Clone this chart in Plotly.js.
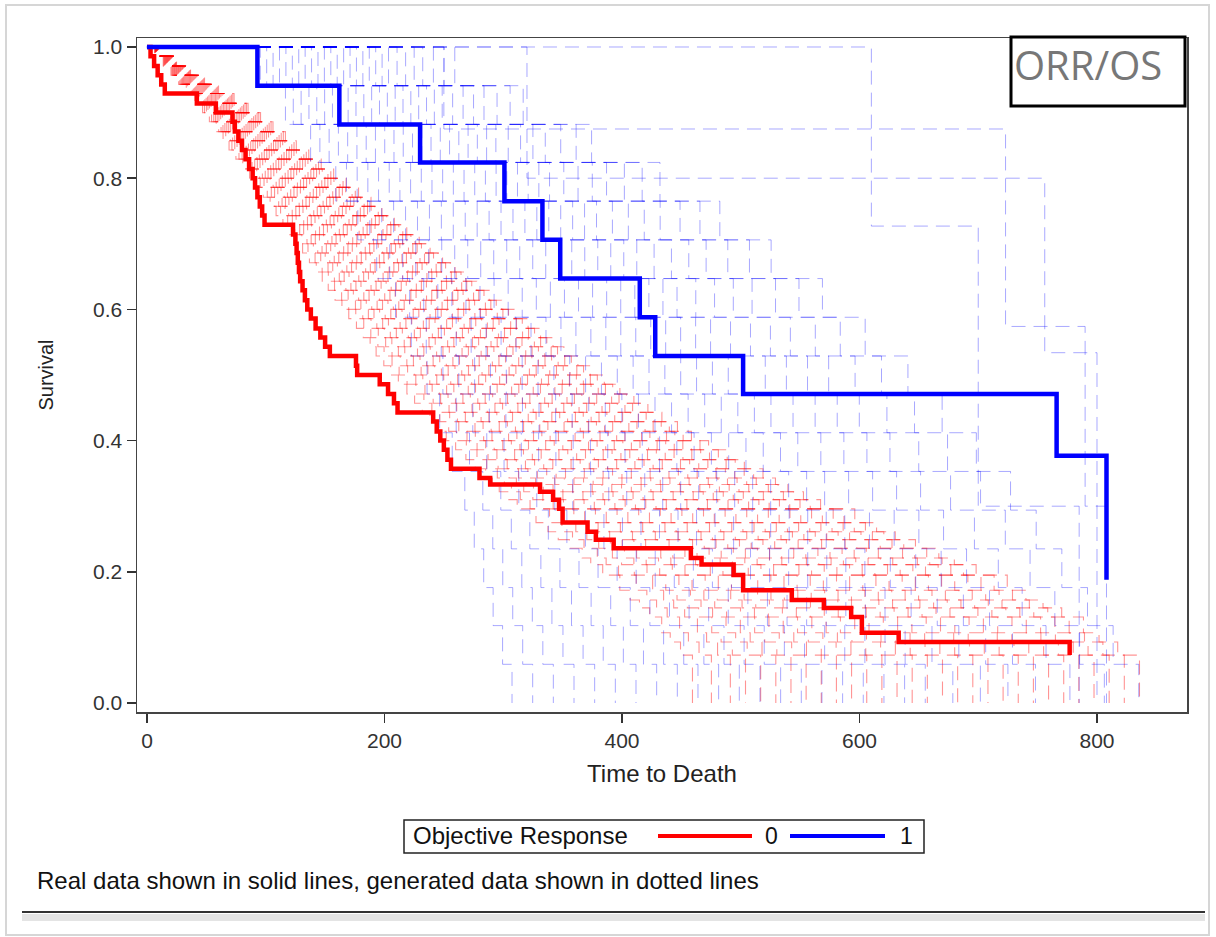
<!DOCTYPE html>
<html><head><meta charset="utf-8">
<script src="https://cdn.plot.ly/plotly-3.0.1.min.js"></script>
<style>html,body{margin:0;padding:0;background:#fff}#chart{width:1216px;height:937px}</style>
</head><body><div id="chart"></div>
<script>
// ---- Real Kaplan-Meier data ----
const redTimes = [0,3,6,9,12,15,42,58,72,74,77,80,83,86,89,91,93,95,97,99,123,125,126,127,128,129,131,133,135,138,142,146,150,154,176,177,196,203,208,211,241,244,247,250,253,256,280,289,331,342,347,350,371,378,393,458,467,494,502,543,570,593,602,633,777];
const redSurv  = [1,0.986,0.971,0.957,0.943,0.929,0.914,0.900,0.886,0.871,0.857,0.843,0.829,0.814,0.800,0.786,0.771,0.757,0.743,0.729,0.714,0.700,0.686,0.671,0.657,0.643,0.629,0.614,0.600,0.586,0.571,0.557,0.543,0.529,0.514,0.500,0.486,0.471,0.457,0.443,0.429,0.414,0.400,0.386,0.371,0.357,0.343,0.333,0.322,0.310,0.296,0.275,0.261,0.249,0.236,0.221,0.211,0.195,0.172,0.157,0.145,0.131,0.107,0.093,0.073];
const blueTimes = [0,93,162,230,301,333,348,415,428,502,766,808];
const blueSurv  = [1,0.941,0.882,0.824,0.765,0.706,0.647,0.588,0.529,0.471,0.377,0.188];

// ---- Generated (simulated) curves: centre of each dashed cloud,
//      and the time-stretch of the individual dashed curves around that centre ----
const redGenTimes = [0,9,19,28,37,46,56,65,73,81,89,96,104,112,120,128,136,144,151,159,167,175,182,190,198,205,212,220,228,236,245,253,261,268,277,285,294,304,313,322,331,341,350,361,373,384,396,404,412,422,433,455,469,481,494,509,519,533,553,565,576,588,602,612,624,638];
const redGenSurv  = [1,0.986,0.971,0.957,0.943,0.929,0.914,0.900,0.886,0.871,0.857,0.843,0.829,0.814,0.800,0.786,0.771,0.757,0.743,0.729,0.714,0.700,0.686,0.671,0.657,0.643,0.629,0.614,0.600,0.586,0.571,0.557,0.543,0.529,0.514,0.500,0.486,0.471,0.457,0.443,0.429,0.414,0.400,0.386,0.371,0.357,0.343,0.333,0.322,0.310,0.296,0.275,0.261,0.249,0.236,0.221,0.211,0.195,0.172,0.157,0.145,0.131,0.107,0.093,0.073,0];
const redGenStretch = [0.72,0.745,0.77,0.79,0.81,0.83,0.85,0.87,0.89,0.91,0.93,0.95,0.97,0.99,1.01,1.03,1.05,1.07,1.09,1.11,1.13,1.15,1.17,1.19,1.21,1.23,1.25,1.27,1.29,1.31];
const blueGenTimes = [0,180,220,260,300,335,365,395,420,445,465,485,505,520,535,550,565,580];
const blueGenSurv  = [1,0.941,0.882,0.824,0.765,0.706,0.647,0.588,0.529,0.471,0.412,0.353,0.294,0.235,0.176,0.118,0.059,0];
const blueGenStretch = [0.53,0.56,0.59,0.62,0.65,0.68,0.71,0.74,0.77,0.8,0.83,0.86,0.89,0.92,0.95,0.98,1.01,1.04,1.07,1.1,1.13,1.17,1.21,1.25,1.29,1.34,1.39,1.44];
const blueOutTimes1 = [0,610,700,785];
const blueOutSurv1  = [1,0.727,0.3,0];
const blueOutTimes2 = [0,250,723,790,808];
const blueOutSurv2  = [1,0.875,0.574,0.3,0];
const blueOutTimes3 = [0,320,756,800];
const blueOutSurv3  = [1,0.800,0.534,0];

const xTicks = [0,200,400,600,800];
const yTicks = [0,0.2,0.4,0.6,0.8,1.0];
const xTitle = 'Time to Death';
const yTitle = 'Survival';
const legendTitle = 'Objective Response';
const groupLabels = ['0','1'];
const boxLabel = 'ORR/OS';
const footnote = 'Real data shown in solid lines, generated data shown in dotted lines';

// ---- styles ----
const RED = '#ff0000', BLUE = '#0000ff';
const genRed = 'rgba(255,0,0,0.42)', genBlue = 'rgba(0,0,255,0.34)';
const genDash = '14px,8px';
const FONT = 'Liberation Sans, Arial, sans-serif';

const traces = [];
redGenStretch.forEach(f => {
  traces.push({type:'scatter', mode:'lines', x:redGenTimes.map(t => t * f), y:redGenSurv, line:{shape:'hv', color:genRed, width:1.1, dash:genDash}, hoverinfo:'skip', showlegend:false});
});
blueGenStretch.forEach(f => {
  traces.push({type:'scatter', mode:'lines', x:blueGenTimes.map(t => t * f), y:blueGenSurv, line:{shape:'hv', color:genBlue, width:1, dash:genDash}, hoverinfo:'skip', showlegend:false});
});
[[blueOutTimes1,blueOutSurv1],[blueOutTimes2,blueOutSurv2],[blueOutTimes3,blueOutSurv3]].forEach(([tx,sy]) => {
  traces.push({type:'scatter', mode:'lines', x:tx, y:sy, line:{shape:'hv', color:genBlue, width:1, dash:genDash}, hoverinfo:'skip', showlegend:false});
});
traces.push({type:'scatter', mode:'lines', name:groupLabels[0], x:redTimes, y:redSurv, line:{shape:'hv', color:RED, width:4.5}, showlegend:false});
traces.push({type:'scatter', mode:'lines', name:groupLabels[1], x:blueTimes, y:blueSurv, line:{shape:'hv', color:BLUE, width:4.5}, showlegend:false});

// pixel -> paper helpers (plot area is 137..1187 x 38..712)
const L = 137, R = 1187, T = 38, B = 712;
const px = v => (v - L) / (R - L);
const py = v => (B - v) / (B - T);

const shapes = [
  {type:'rect', xref:'paper', yref:'paper', x0:px(6), x1:px(1209), y0:py(5), y1:py(935), line:{color:'#d6d6d6', width:2}},
  {type:'rect', xref:'paper', yref:'paper', x0:px(22), x1:px(1205), y0:py(914), y1:py(921), fillcolor:'#e4e4e4', line:{width:0}},
  {type:'line', xref:'paper', yref:'paper', x0:px(22), x1:px(1205), y0:py(912), y1:py(912), line:{color:'#333', width:2}},
  {type:'rect', xref:'paper', yref:'paper', x0:px(1011), x1:px(1185), y0:py(37), y1:py(106), fillcolor:'rgba(255,255,255,0)', line:{color:'#000', width:3}},
  {type:'rect', xref:'paper', yref:'paper', x0:px(404), x1:px(924), y0:py(820), y1:py(853), line:{color:'#222', width:1.5}},
  {type:'line', xref:'paper', yref:'paper', x0:px(658), x1:px(752), y0:py(836), y1:py(836), line:{color:RED, width:4}},
  {type:'line', xref:'paper', yref:'paper', x0:px(790), x1:px(885), y0:py(836), y1:py(836), line:{color:BLUE, width:4}}
];
const annotations = [
  {xref:'paper', yref:'paper', x:px(1012), y:py(64), xanchor:'left', yanchor:'middle', text:boxLabel, showarrow:false, font:{family:'Open Sans, Noto Sans, sans-serif', size:40, color:'#777'}},
  {xref:'paper', yref:'paper', x:px(411), y:py(836), xanchor:'left', yanchor:'middle', text:legendTitle, showarrow:false, font:{family:FONT, size:24, color:'#111'}},
  {xref:'paper', yref:'paper', x:px(771), y:py(836), xanchor:'center', yanchor:'middle', text:groupLabels[0], showarrow:false, font:{family:FONT, size:23, color:'#111'}},
  {xref:'paper', yref:'paper', x:px(906), y:py(836), xanchor:'center', yanchor:'middle', text:groupLabels[1], showarrow:false, font:{family:FONT, size:23, color:'#111'}},
  {xref:'paper', yref:'paper', x:px(35), y:py(880), xanchor:'left', yanchor:'middle', text:footnote, showarrow:false, font:{family:FONT, size:24, color:'#111'}}
];

const layout = {
  width:1216, height:937,
  margin:{l:L, r:1216-R, t:T, b:937-B, pad:0},
  paper_bgcolor:'#fff', plot_bgcolor:'#fff',
  showlegend:false,
  font:{family:FONT, color:'#222'},
  xaxis:{range:[-8.4,875.8], tickvals:xTicks, ticktext:xTicks.map(String), ticks:'outside', ticklen:9, tickwidth:1.5, tickcolor:'#333',
         showline:true, mirror:true, linecolor:'#444', linewidth:1.5, showgrid:false, zeroline:false,
         tickfont:{size:21, color:'#333', family:FONT},
         title:{text:xTitle, font:{size:24, color:'#222', family:FONT}, standoff:14}, automargin:false},
  yaxis:{range:[-0.0137,1.0137], tickvals:yTicks, ticktext:yTicks.map(v => v.toFixed(1)), ticks:'outside', ticklen:9, tickwidth:1.5, tickcolor:'#333',
         showline:true, mirror:true, linecolor:'#444', linewidth:1.5, showgrid:false, zeroline:false,
         tickfont:{size:21, color:'#333', family:FONT},
         title:{text:yTitle, font:{size:20, color:'#222', family:FONT}, standoff:34}, automargin:false},
  shapes:shapes, annotations:annotations
};
Plotly.newPlot('chart', traces, layout, {displayModeBar:false, staticPlot:true});
</script></body></html>
